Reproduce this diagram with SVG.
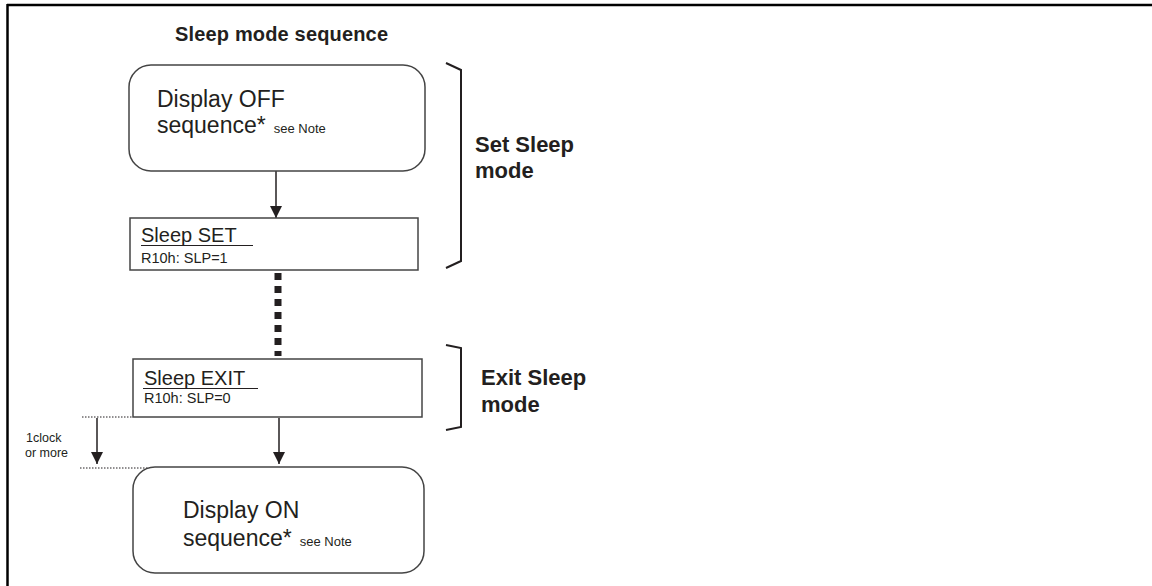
<svg xmlns="http://www.w3.org/2000/svg" width="1152" height="586" viewBox="0 0 1152 586">
<defs>
<style>
.t{font-family:"Liberation Sans",Arial,sans-serif;fill:#231f20}
.b{font-weight:bold}
.box{fill:#fff;stroke:#444;stroke-width:1.5}
.ln{stroke:#231f20;stroke-width:1.5;fill:none}
.br{stroke:#231f20;stroke-width:2;fill:none}
.dot{stroke:#231f20;stroke-width:1;stroke-dasharray:1.5 1.5;fill:none}
</style>
<marker id="ah" viewBox="0 0 10 10" refX="10" refY="5" markerWidth="12" markerHeight="12" markerUnits="userSpaceOnUse" orient="auto">
<path d="M0,0 L10,5 L0,10 z" fill="#231f20"/>
</marker>
</defs>
<rect width="1152" height="586" fill="#fff"/>
<g id="frame">
<line x1="7" y1="5" x2="1152" y2="5" stroke="#000" stroke-width="2.5"/>
<line x1="7.5" y1="4" x2="7.5" y2="586" stroke="#000" stroke-width="2.5"/>
</g>
<text class="t b" x="175" y="41" font-size="20" textLength="213">Sleep mode sequence</text>
<g id="connectors">
<line class="ln" x1="276" y1="171" x2="276" y2="218" marker-end="url(#ah)"/>
<line x1="278" y1="273" x2="278" y2="356" stroke="#231f20" stroke-width="7" stroke-dasharray="7 6"/>
<line class="ln" x1="279" y1="418" x2="279" y2="464" marker-end="url(#ah)"/>
<line class="ln" x1="97" y1="418" x2="97" y2="464" marker-end="url(#ah)"/>
<line class="dot" x1="82" y1="417" x2="133" y2="417"/>
<line class="dot" x1="80" y1="468" x2="152" y2="468"/>
</g>
<g id="display-off">
<rect class="box" x="129" y="65" width="296" height="106" rx="22"/>
<text class="t" x="157" y="107" font-size="23">Display OFF</text>
<text class="t" x="157" y="133" font-size="23">sequence*<tspan font-size="13" dx="8">see Note</tspan></text>
</g>
<g id="sleep-set">
<rect class="box" x="130" y="218" width="288" height="52"/>
<text class="t" x="141" y="242" font-size="20">Sleep SET</text>
<line x1="141" y1="245.5" x2="253" y2="245.5" stroke="#231f20" stroke-width="1"/>
<text class="t" x="141" y="263" font-size="14.5">R10h: SLP=1</text>
</g>
<g id="sleep-exit">
<rect class="box" x="133" y="359" width="289" height="58"/>
<text class="t" x="144" y="385" font-size="20">Sleep EXIT</text>
<line x1="143" y1="388.5" x2="258" y2="388.5" stroke="#231f20" stroke-width="1"/>
<text class="t" x="144" y="403" font-size="14.5">R10h: SLP=0</text>
</g>
<g id="display-on">
<rect class="box" x="133" y="467" width="291" height="106" rx="22"/>
<text class="t" x="183" y="518" font-size="23">Display ON</text>
<text class="t" x="183" y="546" font-size="23">sequence*<tspan font-size="13" dx="8">see Note</tspan></text>
</g>
<g id="clock-label">
<text class="t" x="26" y="442" font-size="12.5">1clock</text>
<text class="t" x="25" y="457" font-size="12.5">or more</text>
</g>
<g id="set-sleep-mode">
<path class="br" d="M446,63 L461,70 L461,261 L446,268"/>
<text class="t b" x="475" y="152" font-size="22">Set Sleep</text>
<text class="t b" x="475" y="178" font-size="22">mode</text>
</g>
<g id="exit-sleep-mode">
<path class="br" d="M446,345 L461,348 L461,427 L446,430"/>
<text class="t b" x="481" y="385" font-size="22">Exit Sleep</text>
<text class="t b" x="481" y="412" font-size="22">mode</text>
</g>
</svg>
